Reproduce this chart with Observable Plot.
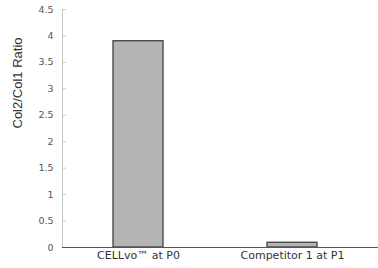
<!DOCTYPE html>
<html><head><meta charset="utf-8">
<script src="https://cdn.jsdelivr.net/npm/d3@7"></script>
<script src="https://cdn.jsdelivr.net/npm/@observablehq/plot@0.6"></script>
<style>body{margin:0;background:#fff}</style>
</head><body><div id="chart"></div>
<script>
const categories = ["CELLvo™ at P0", "Competitor 1 at P1"];
const values = [3.9, 0.09];
const yTicks = [0, 0.5, 1, 1.5, 2, 2.5, 3, 3.5, 4, 4.5];
const yTickLabels = ["0", "0.5", "1", "1.5", "2", "2.5", "3", "3.5", "4", "4.5"];
const yLabel = "Col2/Col1 Ratio";

const data = categories.map((c, i) => ({category: c, value: values[i]}));
const W = 378, H = 268, ML = 62;

const plot = Plot.plot({
  width: W, height: H,
  marginLeft: ML, marginRight: 0, marginTop: 9, marginBottom: 21,
  style: {fontFamily: "Liberation Sans, Arial, sans-serif", background: "#fff"},
  x: {domain: categories, range: [ML, 368], paddingInner: 0.675, paddingOuter: 0.331, align: 0.5, label: null},
  y: {domain: [0, 4.5], label: null},
  marks: [
    Plot.frame({anchor: "left", stroke: "#c8c8c8"}),
    Plot.ruleY(yTicks, {y: d => d, stroke: "#c8c8c8", insetRight: W - ML - 4}),
    Plot.axisY({ticks: yTicks, tickSize: 0, tickPadding: 9, tickFormat: (d) => yTickLabels[yTicks.indexOf(d)], fill: "#555", fontSize: 9.5, fontFamily: "DejaVu Sans, sans-serif", label: null}),
    Plot.barY(data, {x: "category", y: "value", fill: "#b4b4b4", stroke: "#404040", strokeWidth: 1.3}),
    Plot.ruleY([0], {stroke: "#555", strokeWidth: 1.2}),
    Plot.axisX({tickSize: 0, tickPadding: 4, fontFamily: "DejaVu Sans, sans-serif", fontSize: 11, fill: "#333", label: null}),
    Plot.text([yLabel], {text: d => d, frameAnchor: "left", rotate: -90, dx: -45, fontSize: 13, fill: "#333"})
  ]
});
document.getElementById("chart").appendChild(plot);
</script>
</body></html>
